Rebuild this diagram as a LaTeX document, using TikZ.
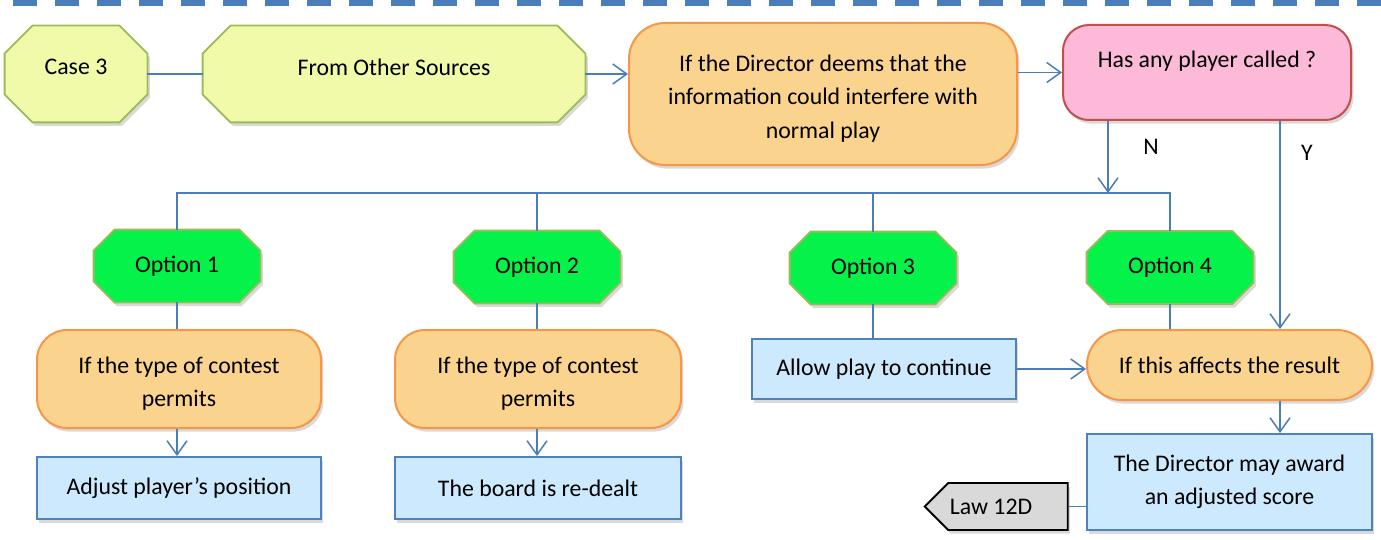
\documentclass[tikz,border=0pt]{standalone}
\usepackage{fontspec}
\setmainfont{Carlito}
\usepackage[HTML]{xcolor}
\usepackage{tikz}
\usetikzlibrary{positioning, arrows.meta, shapes.symbols, shadows, backgrounds, calc}

\definecolor{linkblue}{HTML}{4A7EBB}
\definecolor{olive}{HTML}{9BBB59}
\definecolor{lemon}{HTML}{F0FAA9}
\definecolor{peach}{HTML}{FAD48E}
\definecolor{peachline}{HTML}{F79646}
\definecolor{rose}{HTML}{FCBAD8}
\definecolor{roseline}{HTML}{C0504D}
\definecolor{lime}{HTML}{05F24B}
\definecolor{sky}{HTML}{CCE9FD}
\definecolor{skyline}{HTML}{4F81BD}
\definecolor{stone}{HTML}{D9D9D9}

% octagon round a named node: node, corner cut (px), style
\newcommand{\drawoct}[3]{%
  \path[#3] ($(#1.north west)+(#2,0)$) -- ($(#1.north east)+(-#2,0)$)
    -- ($(#1.north east)+(0,#2)$) -- ($(#1.south east)+(0,-#2)$)
    -- ($(#1.south east)+(-#2,0)$) -- ($(#1.south west)+(#2,0)$)
    -- ($(#1.south west)+(0,-#2)$) -- ($(#1.north west)+(0,#2)$) -- cycle;}
\newcommand{\topgap}{\rule{0pt}{12.8pt}}

\begin{document}
\begin{tikzpicture}[x=0.5pt, y=-0.5pt,
  every node/.style={font=\fontsize{11.9}{16.75}\selectfont, align=center, inner sep=0pt},
  shade/.style={drop shadow={shadow xshift=1.2pt, shadow yshift=-1.8pt, opacity=0.3}},
  octa/.style={draw=olive, line width=0.9pt, shade},
  casebox/.style={rectangle, minimum height=48pt},
  optbox/.style={rectangle, minimum width=83pt, minimum height=36pt},
  ifbox/.style={rectangle, rounded corners=#1, draw=peachline, fill=peach, line width=1pt, shade},
  askbox/.style={rectangle, rounded corners=13pt, draw=roseline, fill=rose, line width=1pt, shade},
  dobox/.style={rectangle, draw=skyline, fill=sky, line width=1pt, shade},
  lawbox/.style={signal, signal to=west, draw=black, fill=stone, line width=0.9pt, shade},
  link/.style={draw=linkblue, line width=0.75pt},
  >={Straight Barb[length=7pt, width=10pt]}]
% frame
\useasboundingbox (0,0) rectangle (1381,540);
\draw[linkblue, line width=3.2pt, dash pattern=on 12pt off 9pt] (13,2.5) -- (1381,2.5);
% top row
\node[casebox, minimum width=71pt, label={[yshift=3.5pt]center:Case 3}] (case3) at (76,74) {};
\node[casebox, minimum width=191pt, label={[yshift=3.5pt]center:From Other Sources}] (fos) at (394,74) {};
\node[ifbox=18pt, minimum width=194pt, minimum height=71pt] (deems) at (823,94)
  {\topgap If the Director deems that the\\information could interfere with\\normal play};
\node[askbox, minimum width=144pt, minimum height=47.5pt, label={[yshift=5.5pt]center:Has any player called ?}] (called) at (1207,72.5) {};
% helper coordinates
\coordinate (bus) at (0,193);
\coordinate (ncol) at (1108,193);
\coordinate (ycol) at (1280,0);
% options
\node[optbox] (opt1) at (177,266) {Option 1};
\node[optbox] (opt2) at (537,267) {Option 2};
\node[optbox] (opt3) at (873,268) {Option 3};
\node[optbox] (opt4) at (1170,267.5) {Option 4};
% octagons behind the texts
\begin{scope}[on background layer]
\drawoct{case3}{28}{octa, fill=lemon}
\drawoct{fos}{28}{octa, fill=lemon}
\foreach \n in {opt1, opt2, opt3, opt4}{
  \drawoct{\n}{21}{octa, fill=lime}
}
\end{scope}
% lower boxes
\node[ifbox=15pt, minimum width=142pt, minimum height=49pt] (permit1) at (179,379) {\topgap If the type of contest\\permits};
\node[ifbox=15pt, minimum width=143pt, minimum height=49pt] (permit2) at (538,379) {\topgap If the type of contest\\permits};
\node[dobox, minimum width=142pt, minimum height=31pt] (adjust) at (179,488) {Adjust player’s position};
\node[dobox, minimum width=143pt, minimum height=31pt] (redeal) at (538,488) {The board is re-dealt};
\node[dobox, minimum width=132pt, minimum height=30pt] (allow) at (884,369) {Allow play to continue};
\node[ifbox=17.5pt, minimum width=142.5pt, minimum height=35pt] (affects) at (1229.5,365) {If this affects the result};
\node[dobox, minimum width=142.5pt, minimum height=48pt] (award) at (1229.5,482) {The Director may award\\an adjusted score};
\node[lawbox, minimum width=71.5pt, minimum height=23.5pt] (law) at (1008,506.5) {Law 12D\kern17pt};
% answer labels
\node (lblN) at (1151,147) {N};
\node (lblY) at (1307,153) {Y};
% connectors
\draw[link] (case3.east) -- (fos.west);
\draw[link, ->] (fos.east) -- (fos.east -| deems.west);
\draw[link, ->] (called.west -| deems.east) -- (called.west);
\draw[link, ->] (called.south -| ncol) -- (ncol);
\draw[link] (opt1.north) -- (opt1.north |- bus) -- (opt4.north |- bus) -- (opt4.north);
\draw[link] (opt2.north) -- (opt2.north |- bus);
\draw[link] (opt3.north) -- (opt3.north |- bus);
\draw[link] (opt1.south) -- (opt1.south |- permit1.north);
\draw[link] (opt2.south) -- (opt2.south |- permit2.north);
\draw[link, ->] (opt1.south |- permit1.south) -- (opt1.south |- adjust.north);
\draw[link, ->] (opt2.south |- permit2.south) -- (opt2.south |- redeal.north);
\draw[link] (opt3.south) -- (opt3.south |- allow.north);
\draw[link] (opt4.south) -- (opt4.south |- affects.north);
\draw[link, ->] (allow.east) -- (allow.east -| affects.west);
\draw[link, ->] (called.south -| ycol) -- (affects.north -| ycol);
\draw[link, ->] (affects.south -| ycol) -- (award.north -| ycol);
\draw[link] (law.east) -- (law.east -| award.west);
\end{tikzpicture}
\end{document}
